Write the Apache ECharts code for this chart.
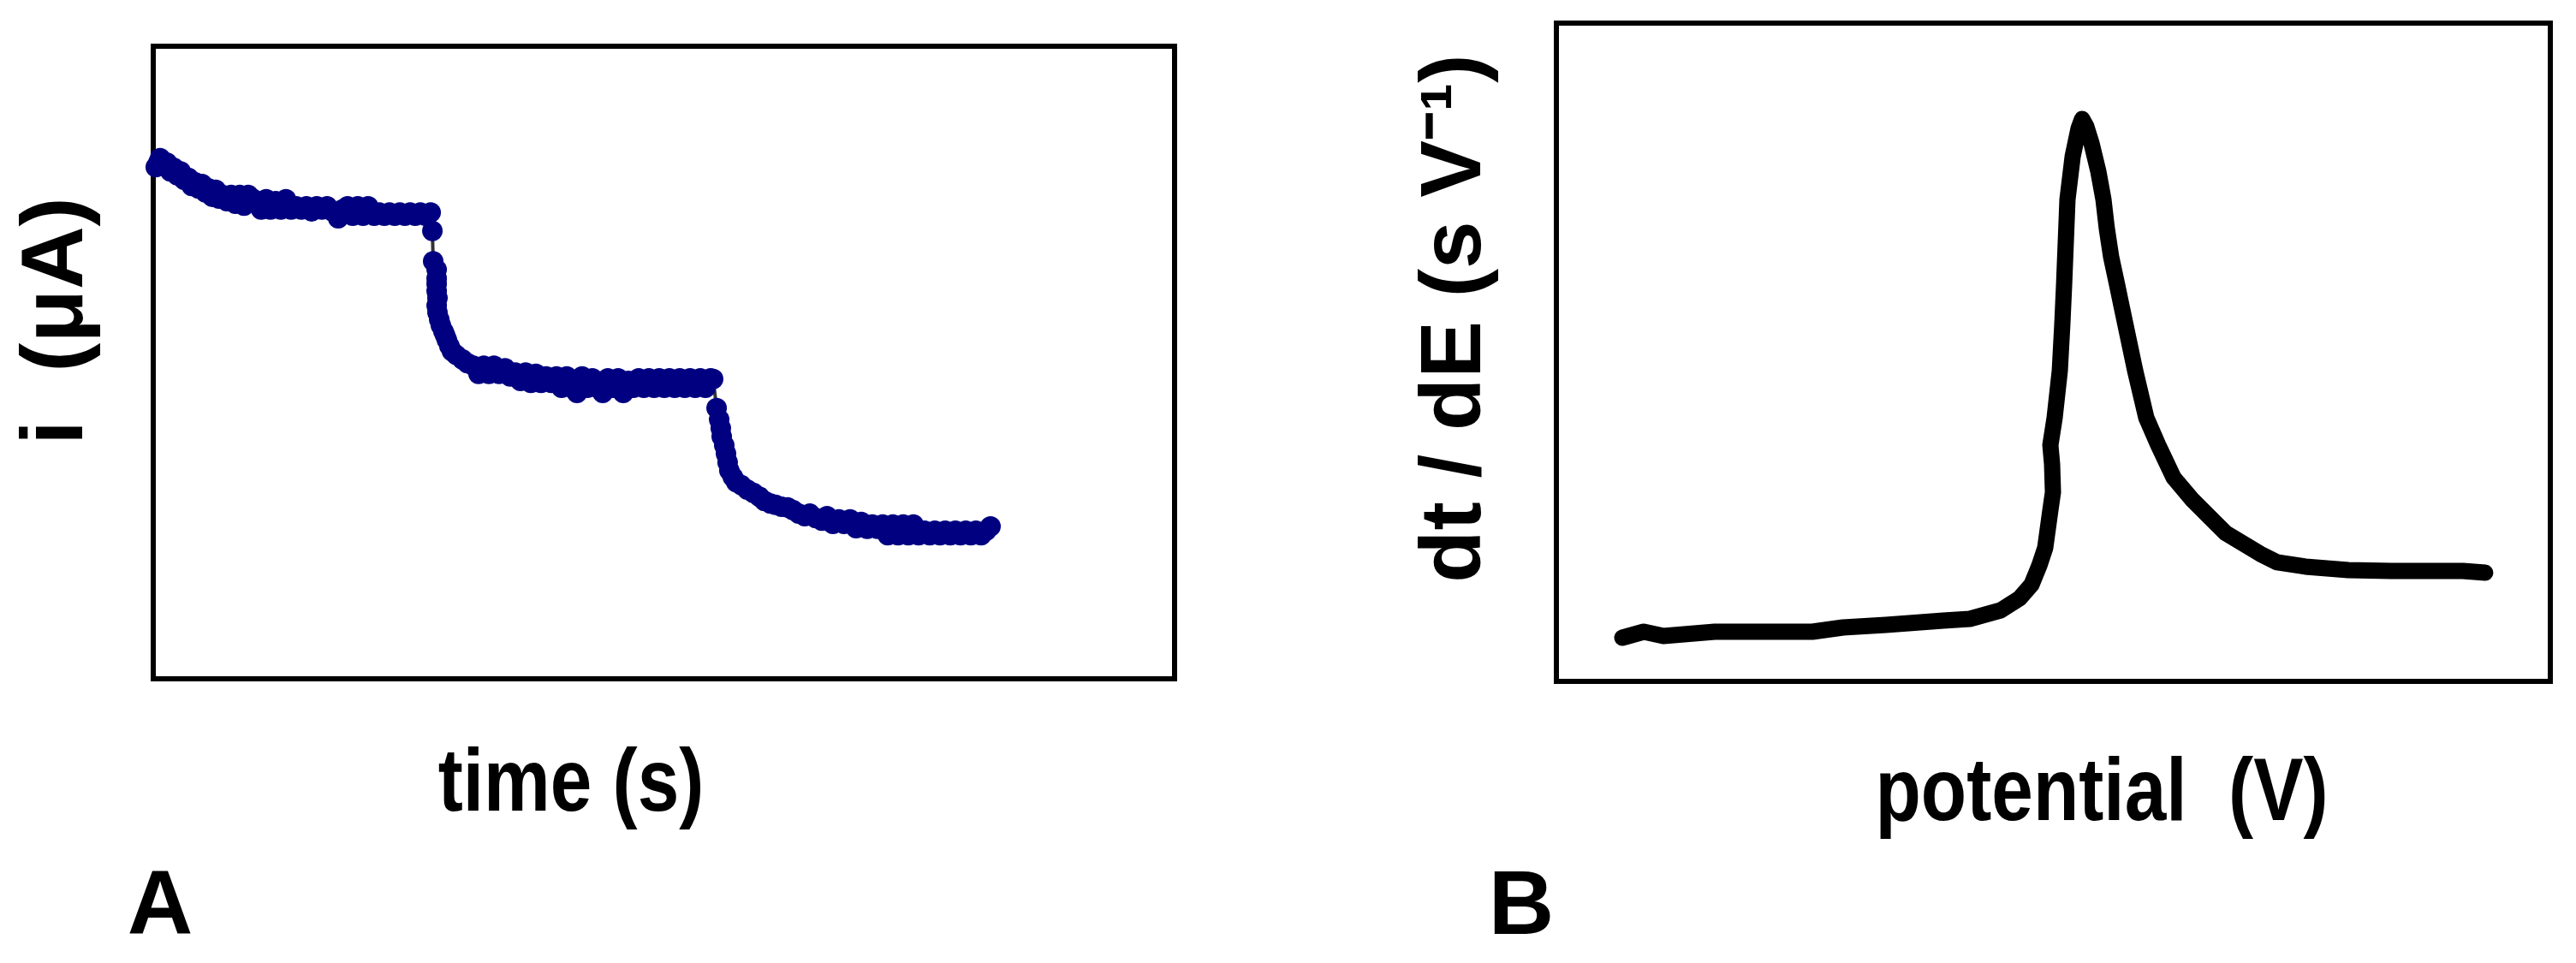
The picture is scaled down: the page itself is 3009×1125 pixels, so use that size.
<!DOCTYPE html>
<html>
<head>
<meta charset="utf-8">
<script src="https://cdn.jsdelivr.net/npm/echarts@6/dist/echarts.min.js"></script>
<style>
html,body{margin:0;padding:0;background:#fff;}
#chart{width:3009px;height:1125px;}
</style>
</head>
<body>
<div id="chart"></div>
<script>
// Panel A: chronoamperogram (arbitrary units, no ticks in the original)
const timeA = [
  // initial decay
  0.25,0.50,0.67,1.01,1.34,1.68,2.01,2.35,2.68,3.02,
  3.44,3.77,4.11,4.44,4.78,5.11,5.45,5.78,6.12,6.45,
  6.79,7.21,7.63,8.05,8.47,8.89,9.30,
  // first plateau
  9.72,10.14,10.56,11.06,11.48,11.99,12.49,12.99,13.50,14.00,
  14.50,15.00,15.51,16.01,16.51,17.02,17.52,18.11,18.52,19.03,
  19.53,20.03,20.54,21.04,21.63,22.13,22.63,23.13,23.64,24.14,
  24.64,25.15,25.65,26.15,26.66,27.16,
  // first drop
  27.33,27.41,27.75,27.75,27.75,27.75,27.83,27.75,27.83,28.00,
  28.16,28.42,28.58,28.75,29.00,29.25,29.67,30.26,30.76,
  // second plateau
  31.35,31.85,32.36,32.86,33.36,33.86,34.45,34.95,35.46,35.96,
  36.46,36.97,37.47,37.97,38.47,38.98,39.48,39.98,40.49,40.99,
  41.49,41.99,42.50,43.00,43.50,44.01,44.51,45.01,45.52,46.02,
  46.52,47.02,47.53,48.03,48.53,49.04,49.54,50.04,50.54,51.05,
  51.55,52.05,52.56,53.06,53.56,54.07,54.57,54.82,
  // second drop and final plateau
  55.16,55.41,55.57,55.66,55.91,56.08,56.24,56.41,56.75,57.08,
  57.59,58.17,58.76,59.35,59.85,60.44,60.94,61.53,62.11,62.62,
  63.20,63.79,64.29,64.88,65.47,65.97,66.55,67.14,67.64,68.23,
  68.82,69.32,69.91,70.41,70.91,71.42,71.92,72.42,72.93,73.43,
  73.93,74.43,74.94,75.52,76.03,76.53,77.03,77.54,78.04,78.54,
  79.04,79.55,80.05,80.55,81.06,81.56,81.98
];
const currentA = [
  // initial decay
  80.9,81.6,82.3,81.3,81.6,80.2,80.8,79.6,80.2,78.9,
  79.2,77.9,78.5,77.5,78.2,76.9,77.5,76.2,77.3,75.9,
  76.5,75.5,76.5,75.1,76.5,74.8,76.5,
  // first plateau
  75.9,75.5,74.2,75.8,74.2,75.5,74.2,75.8,74.2,74.7,
  74.2,74.7,73.9,74.7,74.2,74.7,73.9,72.8,74.2,74.7,
  73.2,74.7,73.2,74.7,73.2,73.7,73.2,73.7,73.2,73.7,
  73.2,73.7,73.2,73.7,73.2,73.7,
  // first drop
  70.8,66.0,64.7,63.3,62.4,61.3,60.2,59.0,57.9,56.8,
  55.9,54.9,54.3,53.6,52.6,51.8,51.2,50.5,49.9,
  // second plateau
  49.5,48.2,49.5,48.2,49.5,48.2,49.1,47.8,48.4,47.1,
  48.4,46.8,48.2,46.8,47.8,46.8,47.8,46.0,47.8,46.0,
  45.2,47.8,46.0,47.5,46.0,45.2,47.5,46.0,47.5,45.2,
  47.1,46.0,47.5,46.0,47.5,46.0,47.5,46.0,47.5,46.0,
  47.5,46.0,47.5,46.0,47.5,46.0,47.5,47.4,
  // second drop and final plateau
  42.8,41.0,39.6,38.3,36.9,35.6,34.2,32.9,31.9,31.1,
  30.6,29.9,29.4,28.8,28.1,27.7,27.5,27.2,27.1,26.7,
  26.1,25.7,26.1,25.4,25.0,25.7,24.5,25.2,24.5,25.2,
  23.8,24.8,23.7,24.4,23.7,24.4,22.7,24.4,22.7,24.4,
  22.7,24.4,22.7,23.4,22.7,23.4,22.7,23.4,22.7,23.4,
  22.7,23.4,22.7,23.4,22.7,23.4,24.1
];

// Panel B: derivative dt/dE vs potential (arbitrary units)
const potentialB = [
  6.63,8.79,10.77,15.93,25.75,28.85,33.16,38.93,41.60,44.70,
  46.60,47.80,48.58,49.18,49.44,49.70,49.96,49.87,49.70,50.13,
  50.65,50.90,51.08,51.42,51.94,52.54,52.89,53.32,53.83,54.52,
  55.04,55.38,55.81,56.42,56.85,58.23,59.35,60.55,62.10,63.91,
  65.63,67.36,70.80,72.52,75.37,79.67,83.98,91.21,93.45
];
const dtdeB = [
  6.63,7.54,6.89,7.54,7.54,8.19,8.58,9.23,9.49,10.79,
  12.61,14.69,17.56,20.29,23.15,26.01,28.74,33.03,35.89,40.05,
  47.20,54.23,60.21,73.21,79.71,84.01,85.44,84.27,81.79,77.50,
  73.21,68.79,64.50,60.21,57.09,47.20,40.05,35.89,30.95,27.70,
  25.10,22.50,19.38,18.08,17.43,16.91,16.78,16.78,16.51
];

const labels = {
  yA: 'i  (\u03bcA)',
  xA: 'time (s)',
  yB: 'dt / dE (s V\u207b\u00b9)',
  xB: 'potential  (V)',
  panelA: 'A',
  panelB: 'B'
};

const FONT = "'Liberation Sans', Arial, Helvetica, sans-serif";

function zip(a, b) { return a.map((v, i) => [v, b[i]]); }

function hiddenAxis(gridIndex) {
  return {
    type: 'value', gridIndex: gridIndex, min: 0, max: 100,
    axisLine: {show: false}, axisTick: {show: false},
    axisLabel: {show: false}, splitLine: {show: false}
  };
}

function txt(text, x, y, size, opts) {
  opts = opts || {};
  return {
    type: 'text', x: x, y: y,
    rotation: opts.rotation || 0,
    scaleX: opts.scaleX || 1,
    silent: true,
    style: {
      text: text,
      fontFamily: FONT, fontWeight: 'bold', fontSize: size,
      fill: '#000',
      textAlign: 'center', textVerticalAlign: 'middle',
      align: 'center', verticalAlign: 'middle'
    }
  };
}

const chart = echarts.init(document.getElementById('chart'));
chart.setOption({
  animation: false,
  backgroundColor: '#fff',
  grid: [
    {left: 179, top: 54, width: 1193, height: 739, show: true,
     borderColor: '#000', borderWidth: 6, backgroundColor: 'transparent'},
    {left: 1818, top: 27, width: 1161, height: 769, show: true,
     borderColor: '#000', borderWidth: 6, backgroundColor: 'transparent'}
  ],
  xAxis: [hiddenAxis(0), hiddenAxis(1)],
  yAxis: [hiddenAxis(0), hiddenAxis(1)],
  series: [
    {
      type: 'line', xAxisIndex: 0, yAxisIndex: 0,
      data: zip(timeA, currentA),
      symbol: 'circle', symbolSize: 24, showSymbol: true,
      itemStyle: {color: '#000080'},
      lineStyle: {color: '#333333', width: 4},
      emphasis: {disabled: true}
    },
    {
      type: 'line', xAxisIndex: 1, yAxisIndex: 1,
      data: zip(potentialB, dtdeB),
      showSymbol: false, symbol: 'none',
      lineStyle: {color: '#000', width: 19, cap: 'round', join: 'round'},
      emphasis: {disabled: true}
    }
  ],
  graphic: [
    txt(labels.yA, 68, 375, 102, {rotation: Math.PI / 2}),
    txt(labels.yB, 1701, 372, 100, {rotation: Math.PI / 2}),
    txt(labels.xA, 667, 918, 104, {scaleX: 0.84}),
    txt(labels.xB, 2455, 929, 104, {scaleX: 0.84}),
    txt(labels.panelA, 187, 1062, 106),
    txt(labels.panelB, 1777, 1062, 106)
  ]
});
</script>
</body>
</html>
